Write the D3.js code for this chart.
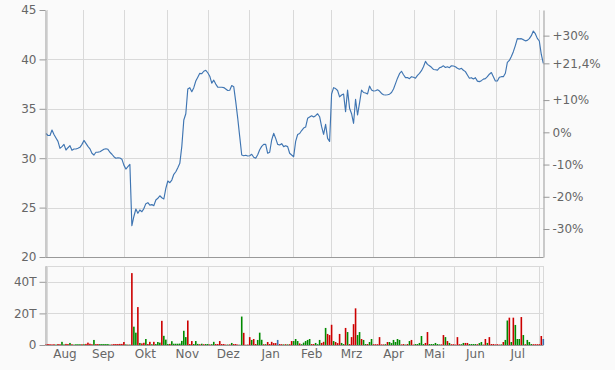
<!DOCTYPE html>
<html><head><meta charset="utf-8">
<script src="https://cdn.jsdelivr.net/npm/d3@7"></script>
<style>
body{margin:0;background:#fafafa}
svg{display:block}
text{font-family:"DejaVu Sans",Verdana,sans-serif;font-size:12px;fill:#666}
</style>
</head><body><svg id="c" width="615" height="370"></svg>
<script>
// ---- data ----
const prices = [
32.5,32.3,32.3,32.85,32.4,32.05,31.7,31.0,31.17,31.4,
30.83,31.06,31.27,30.8,30.93,30.93,31.0,31.1,31.4,31.8,
31.5,31.2,30.95,30.5,30.32,30.6,30.62,30.65,30.78,30.9,
30.96,30.9,30.6,30.4,30.15,30.0,30.05,30.02,29.9,29.3,
28.9,29.14,29.38,23.17,24.1,24.86,24.42,24.76,24.58,24.9,
25.4,25.5,25.25,25.3,25.2,25.77,25.94,26.2,26.0,25.87,
26.95,27.69,27.52,27.79,28.37,28.63,29.04,29.48,31.2,33.87,
34.5,37.0,37.14,36.73,37.14,37.81,38.2,38.59,38.55,38.8,
38.9,38.65,38.3,37.6,37.9,37.5,37.2,37.18,37.18,37.15,
37.0,36.85,36.88,37.35,37.24,35.72,34.04,32.18,30.32,30.25,
30.3,30.22,30.25,30.4,30.1,30.0,30.35,30.85,31.2,31.4,
31.4,30.5,30.6,31.84,32.52,32.01,31.4,31.34,31.47,31.17,
31.27,31.17,30.5,30.32,30.15,31.7,32.4,32.5,32.8,33.05,
33.15,34.04,34.17,34.3,34.17,34.3,34.5,34.2,33.19,32.42,
33.43,32.0,31.7,36.5,37.14,37.05,36.85,36.2,36.4,36.5,
34.71,36.9,35.05,34.5,33.53,35.96,34.37,35.6,36.9,36.65,
36.6,36.5,37.3,36.9,36.8,36.83,36.93,36.8,36.55,36.42,
36.4,36.42,36.48,36.65,37.0,37.55,38.1,38.55,38.8,38.45,
38.15,38.17,38.05,38.25,38.19,38.09,38.39,38.59,38.86,39.26,
39.8,39.5,39.35,39.2,38.98,38.95,38.92,39.15,39.22,39.35,
39.18,39.26,39.16,39.36,39.33,39.26,39.1,39.0,39.1,38.9,
38.76,38.42,38.09,38.15,38.02,38.15,37.8,37.75,37.85,38.0,
38.05,38.25,38.5,38.67,38.25,37.81,37.81,38.2,38.25,38.25,
38.6,39.7,39.9,40.3,40.78,41.4,42.1,42.08,42.1,42.0,
41.88,41.92,42.1,42.4,42.87,42.6,42.13,41.86,40.5,39.6
];
// volume in thousands (T)
const volumes = [
0.5,0.6,0.5,0.4,0.5,0.3,0.6,0.5,2.0,0.4,
0.7,0.6,1.3,0.5,0.3,0.5,0.5,0.5,0.5,0.5,
0.7,1.5,0.8,0.5,3.2,0.6,0.6,0.6,0.6,0.6,
0.6,0.6,0.3,0.4,0.6,0.6,0.6,0.7,0.7,1.9,
0.4,0.3,0.3,45.5,11.6,7.8,24,1.3,1.0,1.4,
3.8,0.6,2.0,0.5,2.0,0.6,1.9,1.5,15.3,5.8,
3.4,0.6,0.7,2.4,0.8,0.8,0.8,0.9,2.6,9.0,
5.0,15.5,0.6,2.5,0.6,2.5,0.7,0.5,0.8,0.5,
0.6,0.6,0.4,0.5,2.0,0.6,0.6,2.5,0.6,0.6,
0.3,0.3,0.4,1.3,0.6,0.6,0.3,0.2,18.0,7.7,
0.2,0.3,5.0,3.2,3.8,0.6,3.2,7.8,3.3,0.5,
0.5,1.9,0.6,2.0,1.2,1.2,3.2,0.6,0.5,0.4,
0.5,0.4,0.5,2.5,2.5,3.8,2.5,1.0,0.5,1.5,
2.5,3.2,3.8,0.6,0.6,1.3,0.5,3.2,1.3,2.0,
10.8,7.0,6.3,12.8,2.5,1.9,1.2,7.0,1.3,0.6,
10.8,8.2,0.6,5.0,13.2,23.2,6.3,8.2,3.8,3.2,
0.6,0.6,1.9,3.8,0.5,0.5,0.5,5.0,0.4,0.4,
0.5,1.9,1.9,1.2,3.2,1.9,3.8,3.2,0.4,0.6,
0.3,0.6,2.5,3.2,0.3,0.6,0.6,1.3,5.7,0.6,
1.3,8.2,0.6,0.6,0.6,1.3,0.6,0.4,0.4,6.3,
5.0,2.5,1.3,0.5,0.5,0.3,5.0,0.5,0.5,1.3,
1.3,1.3,0.6,0.6,0.6,0.6,0.5,1.2,1.9,0.3,
3.8,1.3,5.0,0.6,0.6,0.4,0.5,0.3,0.4,1.9,
3.2,15.5,17.3,1.9,17.3,12.7,3.8,3.8,17.7,6.3,
0.5,3.2,1.9,0.6,0.5,0.5,0.5,0.5,5.7,3.8
];
// d = down day, u = up day, n = unchanged
const volDir = [
"dddddudduu","dduduuuudu","ddddudduuu","uuuddddddd","ududuududd",
"udduduuudu","uuduuuuuuu","uddduuudud","uuduuddddd","dududdduud",
"dddudduuud","udddddnddu","dudduuuduu","uuudduuudd","uddduddduu",
"dudddduudu","uduudddddd","uduuuuuudd","ududduuuuu","dduuuuuudd",
"ududdddduu","dduuuuduud","duddddddud","uududuuudu","duuudddddn"
].join("").split("");
const monthBounds = [0.5,18.5,39,60.5,81,101.5,123.5,142.5,163.5,184.5,204.5,225.5,247];
const monthLabels = ["Aug","Sep","Okt","Nov","Dez","Jan","Feb","Mrz","Apr","Mai","Jun","Jul"];
const priceTicks = [20,25,30,35,40,45];
const priceGrid = [25,30,35,40];
const pctTicks = [30,10,0,-10,-20,-30];
const currentPct = 21.4;
const volTicks = [0,20,40];
const volGrid = [20,40,50];

if (prices.length !== volumes.length || volumes.length !== volDir.length)
  throw new Error("length mismatch " + prices.length + " " + volumes.length + " " + volDir.length);

// ---- drawing ----
const svg = d3.select("#c");
const L = 45.5, R = 543.5;
const x = d3.scaleLinear().domain([0, prices.length - 1]).range([46, 543.3]);
const y = d3.scaleLinear().domain([20, 45]).range([257, 10]);
const yv = d3.scaleLinear().domain([0, 50]).range([345, 266]);
const basePrice = prices[prices.length - 1] / (1 + currentPct / 100);
const yp = d3.scaleLinear().domain([(20 / basePrice - 1) * 100, (45 / basePrice - 1) * 100]).range([257, 10]);
const crisp = v => Math.round(v) + 0.5;
const gridC = "#d9d9d9", axisC = "#999";

// grid main
const g = svg.append("g");
g.selectAll(".hg").data(priceGrid).join("line")
  .attr("x1", L).attr("x2", R).attr("y1", d => crisp(y(d))).attr("y2", d => crisp(y(d)))
  .attr("stroke", gridC);
g.selectAll(".vg").data(monthBounds).join("line")
  .attr("x1", d => crisp(x(d))).attr("x2", d => crisp(x(d))).attr("y1", 10).attr("y2", 257)
  .attr("stroke", gridC);
// grid volume
g.selectAll(".hgv").data(volGrid).join("line")
  .attr("x1", L).attr("x2", R).attr("y1", d => crisp(yv(d))).attr("y2", d => crisp(yv(d)))
  .attr("stroke", gridC);
g.selectAll(".vgv").data(monthBounds).join("line")
  .attr("x1", d => crisp(x(d))).attr("x2", d => crisp(x(d))).attr("y1", yv(50)).attr("y2", 345)
  .attr("stroke", gridC);
g.append("line").attr("x1", R).attr("x2", R).attr("y1", yv(50)).attr("y2", 345).attr("stroke", gridC);

// volume bars
const colors = {d: "#cc0000", u: "#008a00", n: "#3a70b0"};
svg.append("g").selectAll("rect").data(volumes).join("rect")
  .attr("x", (d, i) => x(i) - 0.8).attr("width", 1.6)
  .attr("y", d => yv(d)).attr("height", d => 345 - yv(d))
  .attr("fill", (d, i) => colors[volDir[i]]);

// price line
svg.append("path").datum(prices)
  .attr("d", d3.line().x((d, i) => x(i)).y(d => y(d)))
  .attr("fill", "none").attr("stroke", "#3f75b2").attr("stroke-width", 1.15)
  .attr("stroke-linejoin", "round");

// axes
function styleAxis(sel) {
  sel.select(".domain").attr("stroke", axisC);
  sel.selectAll(".tick line").attr("stroke", axisC);
  sel.selectAll(".tick text").attr("fill", "#666")
    .style("font-family", '"DejaVu Sans",Verdana,sans-serif').style("font-size", "12px");
}
svg.append("g").attr("transform", `translate(${L},0)`)
  .call(d3.axisLeft(y).tickValues(priceTicks).tickSize(6).tickSizeOuter(0).tickPadding(3))
  .call(styleAxis);
svg.append("g").attr("transform", `translate(${L},0)`)
  .call(d3.axisLeft(yv).tickValues(volTicks).tickSize(6).tickSizeOuter(0).tickPadding(3)
    .tickFormat(d => d === 0 ? "0" : d + "T"))
  .call(styleAxis);

const fmtPct = d => (d > 0 ? "+" : "") + String(d).replace(".", ",") + "%";
const rAxis = svg.append("g").attr("transform", `translate(${R},0)`)
  .call(d3.axisRight(yp).tickValues(pctTicks.concat([currentPct])).tickSize(6).tickSizeOuter(0)
    .tickPadding(3).tickFormat(fmtPct))
  .call(styleAxis);
rAxis.selectAll(".tick").filter(d => d === currentPct).select("text").attr("fill", "#119911");

// bottom lines
svg.append("line").attr("x1", L).attr("x2", R).attr("y1", 257.5).attr("y2", 257.5).attr("stroke", axisC);
svg.append("line").attr("x1", L).attr("x2", R).attr("y1", 345.5).attr("y2", 345.5).attr("stroke", axisC);

// month labels
svg.append("g").selectAll("text").data(monthLabels).join("text")
  .attr("x", (d, i) => (x(monthBounds[i]) + x(monthBounds[i + 1])) / 2)
  .attr("y", 358).attr("text-anchor", "middle").text(d => d);
</script>
</body></html>
